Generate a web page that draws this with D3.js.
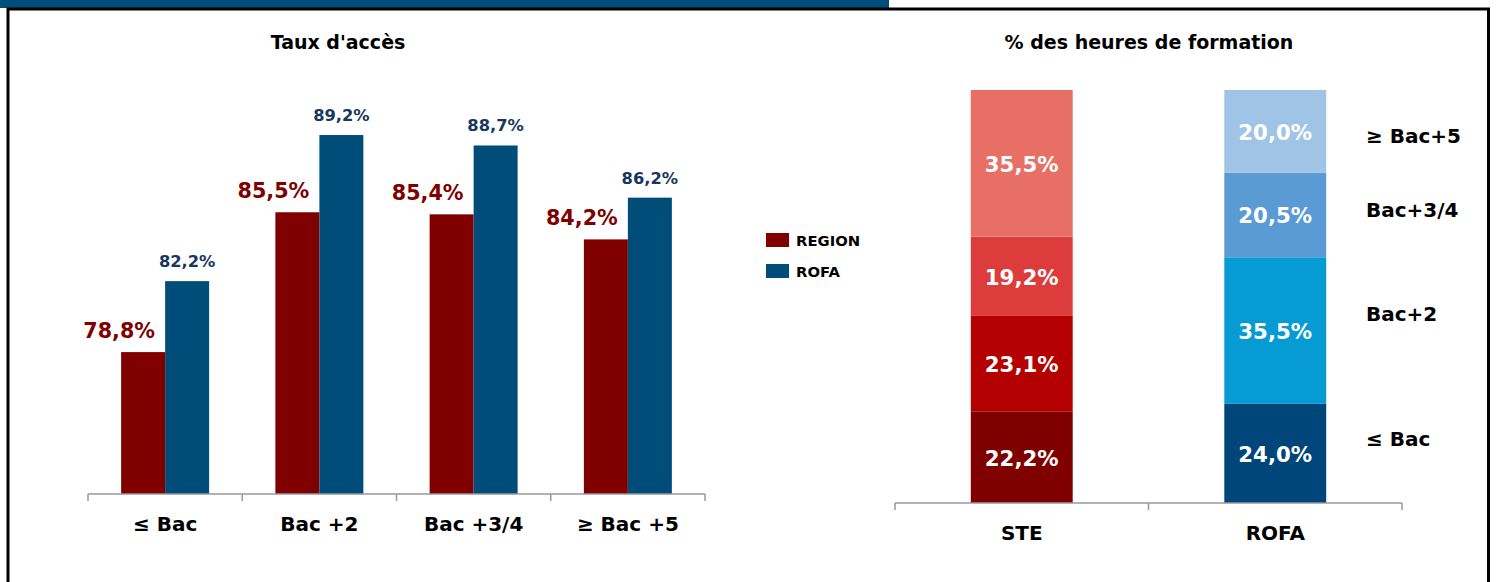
<!DOCTYPE html>
<html>
<head>
<meta charset="utf-8">
<script src="https://cdn.jsdelivr.net/npm/d3@7"></script>
<style>
  html, body { margin: 0; padding: 0; background: #fff; }
  svg { display: block; }
  text { font-family: "DejaVu Sans", Verdana, sans-serif; font-weight: bold; }
</style>
</head>
<body>
<svg id="chart" width="1496" height="582"></svg>
<script>
// ---------- Data ----------
const accessCategories = ["≤ Bac", "Bac +2", "Bac +3/4", "≥ Bac +5"];
const seriesNames = ["REGION", "ROFA"];
const regionValues = [78.8, 85.5, 85.4, 84.2];
const rofaValues = [82.2, 89.2, 88.7, 86.2];

const hoursCategories = ["STE", "ROFA"];
const levelNames = ["≤ Bac", "Bac+2", "Bac+3/4", "≥ Bac+5"];
const steShares = [22.2, 23.1, 19.2, 35.5];
const rofaShares = [24.0, 35.5, 20.5, 20.0];

// ---------- Styles ----------
const seriesColors = { REGION: "#800000", ROFA: "#004d7a" };
const seriesLabelColors = { REGION: "#800000", ROFA: "#17375e" };
const steColors = ["#800000", "#b40000", "#dc3c3c", "#e76f66"];
const rofaColors = ["#00467a", "#079bd4", "#5b9bd3", "#9fc4e6"];

const svg = d3.select("#chart");

// Banner and frame
svg.append("rect").attr("x", 0).attr("y", 0).attr("width", 889).attr("height", 8).attr("fill", "#004c7a");
svg.append("path")
  .attr("d", "M8,582 V9 H1488.5 V582")
  .attr("fill", "none").attr("stroke", "#000").attr("stroke-width", 3);

// ---------- Left chart: Taux d'accès ----------
const x0 = d3.scaleBand().domain(accessCategories).range([88, 705]).paddingInner(0.4295).paddingOuter(0.2148);
const x1 = d3.scaleBand().domain(seriesNames).range([0, x0.bandwidth()]);
const yL = d3.scaleLinear().domain([72, 92]).range([494, 76.6]);

svg.append("text").attr("x", 338).attr("y", 49).attr("text-anchor", "middle")
  .attr("font-size", 19).text("Taux d'accès");

const groups = svg.append("g").selectAll("g")
  .data(accessCategories.map((c, i) => ({ c, vals: [
    { s: "REGION", v: regionValues[i] }, { s: "ROFA", v: rofaValues[i] }] })))
  .join("g").attr("transform", d => `translate(${x0(d.c)},0)`);

groups.selectAll("rect").data(d => d.vals).join("rect")
  .attr("x", d => x1(d.s)).attr("width", x1.bandwidth())
  .attr("y", d => yL(d.v)).attr("height", d => yL.range()[0] - yL(d.v))
  .attr("fill", d => seriesColors[d.s]);

const fmt = v => v.toFixed(1).replace(".", ",") + "%";

groups.selectAll("text.val").data(d => d.vals).join("text").attr("class", "val")
  .attr("x", d => d.s === "REGION" ? x1(d.s) + x1.bandwidth() / 2 - 24 : x1(d.s) + x1.bandwidth() / 2)
  .attr("y", d => yL(d.v) - 14)
  .attr("text-anchor", "middle")
  .attr("font-size", d => d.s === "REGION" ? 20.7 : 16.3)
  .attr("fill", d => seriesLabelColors[d.s])
  .text(d => fmt(d.v));

// axis
const axL = svg.append("g").attr("transform", "translate(0,494)");
axL.append("line").attr("x1", 88).attr("x2", 705).attr("stroke", "#999").attr("stroke-width", 1.5);
const bL = [...accessCategories.map(c => x0(c) - x0.step() * x0.paddingInner() / 2), 705];
bL[0] = 88;
axL.selectAll("line.tick").data(bL).join("line").attr("class", "tick")
  .attr("x1", d => d).attr("x2", d => d).attr("y1", 0).attr("y2", 7)
  .attr("stroke", "#999").attr("stroke-width", 1.5);
axL.selectAll("text").data(accessCategories).join("text")
  .attr("x", d => x0(d) + x0.bandwidth() / 2).attr("y", 36.5)
  .attr("text-anchor", "middle").attr("font-size", 20).attr("fill", "#000")
  .text(d => d);

// legend
const leg = svg.append("g");
seriesNames.forEach((s, i) => {
  leg.append("rect").attr("x", 766).attr("y", 233 + i * 31).attr("width", 23).attr("height", 14).attr("fill", seriesColors[s]);
  leg.append("text").attr("x", 796).attr("y", 245.5 + i * 31).attr("font-size", 14.8).attr("fill", "#000").text(s);
});

// ---------- Right chart: % des heures de formation ----------
const xR = d3.scaleBand().domain(hoursCategories).range([895, 1402]).paddingInner(0.598).paddingOuter(0.299);
const yR = d3.scaleLinear().domain([0, 100]).range([503, 90]);

svg.append("text").attr("x", 1149).attr("y", 49).attr("text-anchor", "middle")
  .attr("font-size", 19).text("% des heures de formation");

const stackData = hoursCategories.map((c, i) => {
  const shares = i === 0 ? steShares : rofaShares;
  const colors = i === 0 ? steColors : rofaColors;
  let acc = 0;
  return shares.map((v, j) => { const s = { c, v, y0: acc, y1: acc + v, color: colors[j] }; acc += v; return s; });
}).flat();

svg.append("g").selectAll("rect").data(stackData).join("rect")
  .attr("x", d => xR(d.c)).attr("width", xR.bandwidth())
  .attr("y", d => yR(d.y1)).attr("height", d => yR(d.y0) - yR(d.y1))
  .attr("fill", d => d.color);

svg.append("g").selectAll("text").data(stackData).join("text")
  .attr("x", d => xR(d.c) + xR.bandwidth() / 2)
  .attr("y", d => (yR(d.y0) + yR(d.y1)) / 2 + 8.5)
  .attr("text-anchor", "middle").attr("font-size", 21.3).attr("fill", "#fff")
  .text(d => fmt(d.v));

const axR = svg.append("g").attr("transform", "translate(0,503)");
axR.append("line").attr("x1", 895).attr("x2", 1402).attr("stroke", "#999").attr("stroke-width", 1.5);
axR.selectAll("line.tick").data([895, 1148.5, 1402]).join("line").attr("class", "tick")
  .attr("x1", d => d).attr("x2", d => d).attr("y1", 0).attr("y2", 7)
  .attr("stroke", "#999").attr("stroke-width", 1.5);
axR.selectAll("text").data(hoursCategories).join("text")
  .attr("x", d => xR(d) + xR.bandwidth() / 2).attr("y", 36.5)
  .attr("text-anchor", "middle").attr("font-size", 20).attr("fill", "#000")
  .text(d => d);

// level legend (right side)
const levelY = [438, 313, 209, 135];
svg.append("g").selectAll("text").data(levelNames).join("text")
  .attr("x", 1366).attr("y", (d, i) => levelY[i] + 7.5)
  .attr("font-size", 20).attr("fill", "#000").text(d => d);
</script>
</body>
</html>
